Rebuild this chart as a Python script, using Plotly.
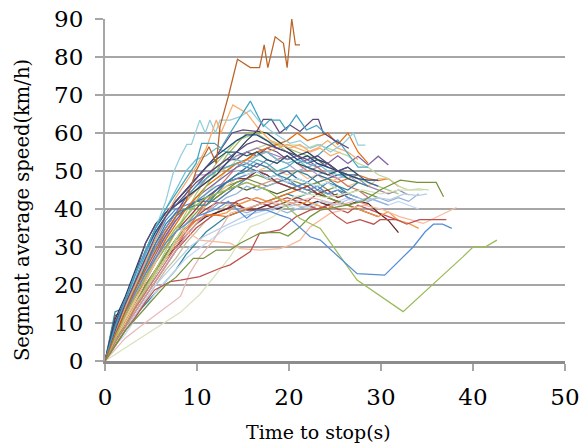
import plotly.graph_objects as go

# ---------------------------------------------------------------
# Segment average speed vs. time to stop, one line per stop event
# ---------------------------------------------------------------

# Common 1.1 s sampling grid used by most runs
TIME_GRID = [0.0, 1.1, 2.2, 3.3, 4.4, 5.5, 6.6, 7.7, 8.8, 9.9, 11.0, 12.1,
             13.2, 14.3, 15.4, 16.5, 17.6, 18.7, 19.8, 20.9, 22.0, 23.1,
             24.2, 25.3, 26.4, 27.5, 28.6, 29.7, 30.8, 31.9, 33.0, 34.1,
             35.2, 36.3, 37.4, 38.5]

# Speeds (km/h) of runs sampled on TIME_GRID
g01 = [0, 10, 16, 23, 31, 36, 39, 41, 44, 47, 49, 51, 53, 55, 57, 58, 57, 56, 55, 54, 53, 54, 52, 50, 51]
g02 = [0, 13, 14, 19, 25, 31, 36, 39, 40, 41, 41, 44, 47, 49, 50, 52, 51, 49, 48, 50, 49, 47, 48, 46, 45, 47, 46]
g03 = [0, 8, 13, 18, 24, 29, 33, 37, 40, 42, 42, 42, 44, 46, 48, 50, 49, 47, 48, 46, 47, 45, 47, 46, 44]
g04 = [0, 9, 15, 22, 29, 34, 38, 42, 45, 48, 51, 54, 56, 58, 59.5, 59.5, 58, 56, 55, 53, 54, 52, 51, 50, 49, 48, 47.6, 47.6]
g05 = [0, 12, 13, 17, 21, 26, 30, 34, 37, 40, 43, 45, 47, 48, 48, 50, 49, 47, 46, 45, 46, 44, 45, 43, 44]
g06 = [0, 9, 15, 22, 28, 34, 38, 41, 43, 46, 48, 50, 51, 52, 51, 53, 52, 50, 51, 53, 52, 54, 56.4, 58.2, 54.6, 51, 51]
g07 = [0, 6, 10, 14, 19, 23, 27, 31, 34, 37, 38.4, 38.4, 39, 41, 42, 43, 42, 43, 42, 41, 42, 41, 40, 42, 41, 40, 39, 38, 39.3, 37, 36.2, 34.9]
g08 = [0, 6, 11, 16, 21, 26, 30, 34, 38, 42, 46, 50, 54, 57, 60, 60, 60, 58, 56, 55, 54, 53, 52, 50, 49, 48]
g09 = [0, 5, 9, 14, 18, 23, 27, 32, 36, 40, 44, 47, 50, 53, 55, 56, 57, 56.8, 56.8, 56.8, 56, 57, 56, 55, 54, 52, 51, 49, 48, 46, 45, 45.3, 45]
g10 = [0, 8, 13, 18, 23, 28, 33, 37, 40, 43, 45, 47, 49, 51, 52, 51, 53, 52, 54, 52, 53, 51, 52, 54, 52, 53.9, 51.6, 53.9, 51.6]
g11 = [0, 5, 9, 13, 17, 21, 25, 29, 33, 36, 39, 41, 43, 44, 46, 45, 46, 47, 46, 45, 44, 45, 44, 43, 44, 43, 42, 43, 42, 43, 42, 44]
g12 = [0, 7, 12, 17, 22, 27, 32, 38, 44, 49, 49, 50, 51, 52, 53, 52, 51, 53, 52, 50, 51, 49, 50, 48, 49, 47]
g13 = [0, 8, 13, 19, 24, 29, 34, 38, 42, 45, 47, 49, 51, 50, 49, 50, 48, 49, 47, 48, 47, 46, 47, 45]
g14 = [0, 6, 10, 15, 19, 23, 27, 31, 35, 38, 41, 44, 46, 48, 49, 50, 51, 50, 49, 50, 48, 49, 47, 48, 46, 47, 46, 48, 48]
g15 = [0, 5, 9, 13, 17, 21, 25, 29, 33, 36, 39, 42, 44, 46, 47, 46, 47, 48, 47, 46, 45, 46, 44, 45, 43, 42, 41]
g16 = [0, 5, 10, 14, 18, 23, 27, 31, 35, 38, 41, 43, 45, 46, 45, 46, 45, 44, 45, 46, 45, 44, 43, 44]
g17 = [0, 7, 12, 17, 22, 27, 32, 36, 40, 43, 46, 48, 50, 52, 53, 55, 56, 57, 58, 60, 58, 59, 60, 57, 60, 55, 52]
g18 = [0, 9, 15, 21, 27, 32, 37, 40, 41, 42, 44, 46, 47, 48, 49, 50, 48, 49, 47, 46, 45, 46, 44, 45, 43, 42]
g19 = [0, 5, 9, 13, 17, 21, 25, 29, 32, 35, 37, 39, 40, 42, 43, 42, 41, 42, 43, 42, 41, 40, 41, 40, 39, 41, 40, 39, 38, 37]
g20 = [0, 4, 8, 12, 16, 20, 24, 27, 31, 34, 37, 39, 41, 41, 42, 43, 42, 41, 42, 41, 40, 41, 40]
g21 = [0, 10, 16, 22, 29, 35, 39, 42, 45, 48, 51, 53, 55, 55, 54, 55, 53, 52, 54, 52, 51, 50, 49, 50, 48, 47]
g22 = [0, 5, 10, 14, 19, 24, 28, 32, 35, 38, 41, 43, 45, 47, 48, 47, 46, 47, 46, 45, 44, 45, 43, 42, 41, 40]
g23 = [0, 6, 10, 15, 20, 24, 28, 32, 35, 37, 38, 39, 40, 40, 39, 40, 41, 40, 39, 40, 41, 40, 41, 42, 41, 42, 43, 42, 41]
g24 = [0, 4, 8, 12, 15, 18, 21, 24, 28, 31, 34, 36, 38, 39, 40, 41, 42, 43, 44, 43, 44, 45, 44, 45, 44, 43]
g25 = [0, 6, 10, 15, 19, 23, 27, 30, 33, 36, 38, 39, 40, 41, 40, 40, 41, 40, 41, 42, 41, 42, 41, 42, 41, 42, 41.5, 39, 37, 33.8]
g26 = [0, 4, 7, 11, 14, 18, 21, 24, 27, 29, 31, 33, 35, 36, 37, 38, 39, 40, 41, 40, 41, 42, 41, 42, 43, 42, 43, 42, 41, 42, 41, 40]
g27 = [0, 8, 14, 20, 26, 31, 35, 39, 43, 46, 49, 51, 53, 53, 55, 54, 56, 55, 53, 54, 52, 53, 51]
g28 = [0, 6, 10, 15, 20, 24, 28, 32, 36, 39, 42, 44, 46, 47, 48, 49, 48, 47, 48, 47, 46, 47, 45, 46, 44, 45, 44, 43]
g29 = [0, 9, 14, 19, 25, 30, 34, 38, 40, 42, 43, 45, 47, 49, 51, 50, 48, 49, 50, 48, 47, 49, 48, 49, 49, 49, 47, 46]
g30 = [0, 5, 9, 14, 18, 22, 26, 30, 34, 38, 42, 45, 48, 51, 53, 55, 55, 53, 54, 52, 50, 51, 49, 48, 46, 45, 43]
g31 = [0, 8, 13, 18, 24, 29, 34, 38, 42, 45, 47, 49, 51, 52, 53, 54, 55, 56, 57, 56, 55, 56, 58, 56, 55, 53]
g32 = [0, 5, 9, 14, 19, 24, 29, 34, 39, 44, 48, 52, 55, 58, 59, 60, 58, 57, 55, 54, 52, 53, 51, 50, 49, 48, 47, 46, 45, 44]
g33 = [0, 8, 13, 19, 25, 30, 35, 39, 42, 45, 48, 50, 52, 54, 55, 56, 55, 54, 53, 54, 52, 51, 52, 50, 49, 48, 46, 45, 44, 45, 43.7]
g34 = [0, 9, 15, 22, 29, 35, 40, 45, 50, 53, 54, 56, 55, 53, 52, 54, 55, 53, 52, 53, 51, 52, 50, 49, 48]
g35 = [0, 6, 10, 15, 20, 24, 28, 32, 35, 38, 40, 41.6, 41.6, 41.6, 39.7, 39.7, 40, 41, 42, 43, 42, 44, 43, 42, 41, 40, 39, 38]
g36 = [0, 6, 10, 15, 19, 24, 28, 32, 35, 37, 38.4, 38.4, 38, 39, 40, 41, 42, 43, 44, 45, 46, 47, 48, 47, 48, 49, 48, 47.5, 48, 46]
g37 = [0, 11, 17, 24, 31, 36, 39, 41, 43, 45, 47, 49, 52, 55, 58, 60.5, 60, 58, 56, 54, 55, 53, 52, 50, 51, 49]

# Runs logged with their own time stamps (s) and speeds (km/h)
slow_red_t = [0, 1.1, 2.2, 3.3, 4.4, 5.4, 7.1, 8.2, 10.3, 12.5, 13.6, 15.8, 16.8, 17.9, 19.0, 20.1, 20.8, 22.3, 24.0, 25.2, 26.3, 27.7, 29.2, 29.9, 31.7, 32.8, 34.2, 37.1]
slow_red_v = [0, 4, 8, 11.5, 15.5, 18.7, 20.9, 21.3, 22.2, 24.4, 25.3, 28.8, 33.6, 34, 34.5, 36.7, 38, 39.7, 40.5, 38, 36.2, 37.2, 36, 37.2, 37.2, 36, 37.2, 37.2]

salmon_t = [0, 1.1, 2.2, 3.3, 4.4, 5.5, 6.6, 7.7, 9.2, 10.3, 11.8, 13.6, 14.7, 16.8, 19.0, 20.1, 21.2, 22.3, 24.5, 26.3, 28.1, 30.0, 32.0, 34.6, 36.5, 38.2]
salmon_v = [0, 6, 11, 16, 21, 26, 31, 35, 33.6, 31.8, 31.4, 31, 29.6, 29.2, 29.6, 30.5, 31.8, 35.3, 38.9, 40, 41, 40, 38, 36.2, 38.5, 40.4]

pale_green_t = [0, 8.2, 10.3, 12.5, 13.6, 14.7, 15.8, 16.8, 18.3, 19.7, 20.5, 22.0, 24.0, 26.0, 28.0, 30.0, 32.0, 34.6]
pale_green_v = [0, 12.8, 17.5, 24, 27.4, 31.8, 35.3, 36.2, 38, 41, 43.2, 44, 43, 44, 45, 44, 45, 45]

pink_t = [0, 1.1, 2.2, 3.8, 5.5, 6.7, 8.2, 9.2, 10.3, 11.8, 12.9, 13.6, 15.0, 16.5, 18.0, 19.5, 21.0, 22.5, 24.0, 25.5, 27.0]
pink_v = [0, 3, 6, 9, 12, 14.3, 17, 23, 27.4, 31.8, 36.2, 38.9, 40, 41, 42, 41, 42, 43, 42, 41, 42]

pale_blue_t = [0, 1.1, 2.2, 3.3, 4.4, 5.5, 6.6, 7.7, 9.2, 10.7, 13.6, 15.4, 17.2, 19.0, 20.5, 22.0, 23.5, 25.0, 26.5, 28.0, 29.5, 31.0, 32.5, 34.0, 35.0]
pale_blue_v = [0, 4, 8, 12, 16, 20, 23, 26, 30, 32.7, 36.2, 38.4, 39.5, 40.6, 41, 40.5, 42, 41, 42.5, 42, 43, 42.5, 44, 43.5, 44]

olive_t = [0, 1.1, 2.2, 3.3, 4.4, 5.5, 6.6, 7.7, 8.8, 9.6, 10.7, 12.1, 13.6, 14.7, 16.8, 17.9, 19.0, 19.9, 21.2, 22.3, 23.4, 26.3, 28.0, 29.9, 32.1, 33.9, 36.0, 36.8]
olive_v = [0, 4, 8, 11, 14, 17, 20, 22, 25, 27, 27, 29.2, 29.2, 31, 33.6, 33.8, 33.8, 32.9, 35.3, 38, 39.7, 41, 42, 45, 47.6, 47, 47, 43.2]

blue_dip_t = [0, 1.1, 2.2, 3.3, 4.4, 5.5, 6.6, 7.7, 8.8, 9.9, 11.0, 12.1, 13.4, 15.4, 16.5, 17.6, 19.0, 20.1, 22.3, 23.4, 27.4, 30.4, 33.5, 34.8, 35.7, 36.7, 37.7]
blue_dip_v = [0, 7, 13, 18, 23, 27, 31, 34, 36, 38, 39, 40, 42, 37.6, 39.7, 39.7, 38.4, 37.5, 32.7, 31.8, 23, 22.6, 30, 34, 36, 36, 34.9]

green_dip_t = [0, 1.1, 2.2, 3.3, 4.4, 5.5, 6.6, 7.7, 8.8, 9.9, 11.0, 12.1, 13.2, 14.3, 15.4, 16.5, 17.6, 18.7, 19.8, 21.2, 22.3, 23.4, 27.4, 32.4, 38.9, 40.0, 41.3, 42.6]
green_dip_v = [0, 6, 12, 17, 22, 27, 31, 35, 38, 41, 43, 44, 45, 46, 47, 46, 45, 43, 40.6, 37.5, 36.2, 34.9, 21.3, 13, 27.4, 30, 30, 31.8]

sky_t = [0, 1.1, 2.2, 3.3, 4.4, 5.5, 6.6, 7.4, 8.2, 8.9, 9.4, 10.3, 10.9, 11.4, 12.0, 12.5, 13.6, 14.7, 15.8, 16.8, 17.9, 19.0, 20.1, 21.2, 22.3, 23.4, 24.5, 25.9, 27.0, 27.5, 28.3]
sky_v = [0, 8, 15, 22, 29, 35, 42, 49.4, 53.8, 57, 57, 63.4, 60, 63.4, 60, 63.4, 63.4, 64.3, 66, 63, 60.8, 59, 57.3, 58, 56, 57, 55, 57.2, 60, 56.8, 56.8]

teal_peak_t = [0, 1.1, 2.2, 3.3, 4.4, 5.5, 6.6, 7.7, 8.8, 9.9, 10.5, 11.9, 12.6, 13.6, 15.8, 17.2, 17.9, 19.0, 19.7, 20.8, 21.9, 23.0, 23.9]
teal_peak_v = [0, 9, 16, 23, 29, 35, 40, 44, 48, 52, 57.3, 57.3, 56, 60, 68.4, 61.7, 63.4, 63.4, 60.8, 64.7, 60.8, 62, 60]

violet_t = [0, 1.1, 2.2, 3.3, 4.4, 5.5, 6.6, 7.7, 8.8, 9.9, 11.0, 12.1, 13.8, 15.0, 16.5, 17.2, 18.1, 19.0, 20.1, 21.2, 22.6, 23.2, 23.7, 25.0, 26.5]
violet_v = [0, 8, 15, 21, 27, 33, 38, 42, 45, 48, 51, 54, 60, 60.8, 60.4, 63.6, 63.6, 60, 62.1, 60.4, 63.6, 63.6, 60.1, 58, 56]

apricot_t = [0, 1.1, 2.2, 3.3, 4.4, 5.5, 6.6, 7.7, 8.8, 9.9, 11.0, 12.1, 12.6, 13.9, 15.4, 16.8, 18.0, 19.0, 20.1, 21.2, 22.3, 23.4, 24.5, 25.6]
apricot_v = [0, 7, 14, 20, 26, 32, 38, 43, 47, 51, 56, 63.4, 60, 67.4, 65.2, 60.8, 58, 57, 56, 57, 55, 56, 54, 55]

fast_brown_t = [0, 1.1, 2.2, 3.3, 4.4, 5.5, 6.6, 7.7, 8.8, 9.9, 11.3, 12.1, 12.5, 13.4, 14.4, 15.8, 16.8, 17.3, 17.7, 18.5, 19.4, 19.8, 20.3, 20.7, 21.2]
fast_brown_v = [0, 7, 13, 19, 24, 29, 34, 38, 42, 50, 56.4, 52, 61.7, 69.6, 79.4, 77.2, 77.2, 83.2, 77.2, 85.3, 83.6, 77.2, 90, 83.2, 83.2]

GRID_RUNS = [
    (g24, "#31859C"), (g26, "#C6D9F1"), (g20, "#C4BD97"), (g23, "#8EB4E3"),
    (g19, "#C0504D"), (g25, "#632523"), (g35, "#9D3D3A"), (g07, "#F79646"),
    (g36, "#E1751F"), (g16, "#4F6228"), (g22, "#76923C"), (g28, "#7C9A45"),
    (g11, "#95B3D7"), (g15, "#D99694"), (g14, "#FAC090"), (g09, "#C3D69B"),
    (g32, "#AFC97A"), (g30, "#CD7371"), (g03, "#4F81BD"), (g05, "#953735"),
    (g18, "#558ED5"), (g29, "#3C679B"), (g13, "#B7DEE8"), (g12, "#B3A2C7"),
    (g10, "#8064A2"), (g27, "#664E84"), (g33, "#9983B5"), (g31, "#F9AB6B"),
    (g17, "#E46C0A"), (g08, "#9BBB59"), (g06, "#4BACC6"), (g34, "#6FBDD1"),
    (g21, "#215968"), (g02, "#31859C"), (g04, "#1F497D"), (g37, "#254061"),
    (g01, "#604A7B"),
]

STAMPED_RUNS = [
    (pale_green_t, pale_green_v, "#D7E4BD"),
    (pink_t, pink_v, "#E6B9B8"),
    (pale_blue_t, pale_blue_v, "#B9CDE5"),
    (salmon_t, salmon_v, "#F9B99A"),
    (slow_red_t, slow_red_v, "#C0504D"),
    (olive_t, olive_v, "#77933C"),
    (green_dip_t, green_dip_v, "#9BBB59"),
    (blue_dip_t, blue_dip_v, "#558ED5"),
    (sky_t, sky_v, "#93CDDD"),
    (apricot_t, apricot_v, "#F9AB6B"),
    (violet_t, violet_v, "#5F497A"),
    (teal_peak_t, teal_peak_v, "#3FA3C0"),
    (fast_brown_t, fast_brown_v, "#BB6428"),
]

FONT = "DejaVu Serif"
LINE_W = 1.25

fig = go.Figure()
for speeds, color in GRID_RUNS:
    fig.add_trace(go.Scatter(x=TIME_GRID[:len(speeds)], y=speeds, mode="lines",
                             line=dict(color=color, width=LINE_W),
                             hoverinfo="skip", showlegend=False))
for times, speeds, color in STAMPED_RUNS:
    fig.add_trace(go.Scatter(x=times, y=speeds, mode="lines",
                             line=dict(color=color, width=LINE_W),
                             hoverinfo="skip", showlegend=False))

fig.update_layout(
    width=583, height=446,
    margin=dict(l=105, r=18, t=19, b=85, pad=0, autoexpand=False),
    paper_bgcolor="white", plot_bgcolor="white",
    font=dict(family=FONT, color="black"),
    showlegend=False,
    xaxis=dict(range=[0, 50], dtick=10, tick0=0, showgrid=False, zeroline=False,
               showline=True, linecolor="#8C8C8C", linewidth=2.5,
               ticks="outside", ticklen=7, tickwidth=1.5, tickcolor="#A6A6A6",
               ticklabelstandoff=7,
               tickfont=dict(family=FONT, size=23, color="black")),
    yaxis=dict(range=[0, 90], dtick=10, tick0=0, showgrid=True,
               gridcolor="#A6A6A6", gridwidth=1.6, zeroline=False,
               showline=True, linecolor="#A6A6A6", linewidth=1.6,
               ticks="outside", ticklen=8, tickwidth=1.6, tickcolor="#A6A6A6",
               ticksuffix="\u00a0",
               tickfont=dict(family=FONT, size=23, color="black")),
    annotations=[
        dict(text="Time to stop(s)", xref="paper", yref="paper",
             x=(318 - 105) / 460, y=(361 - 432) / 342,
             xanchor="center", yanchor="middle",
             showarrow=False, font=dict(family=FONT, size=19, color="black")),
        dict(text="Segment average speed(km/h)", xref="paper", yref="paper",
             x=(22 - 105) / 460, y=(361 - 210) / 342,
             xanchor="center", yanchor="middle",
             textangle=-90, showarrow=False,
             font=dict(family=FONT, size=19.5, color="black")),
    ],
)

fig.write_html("out.html")
